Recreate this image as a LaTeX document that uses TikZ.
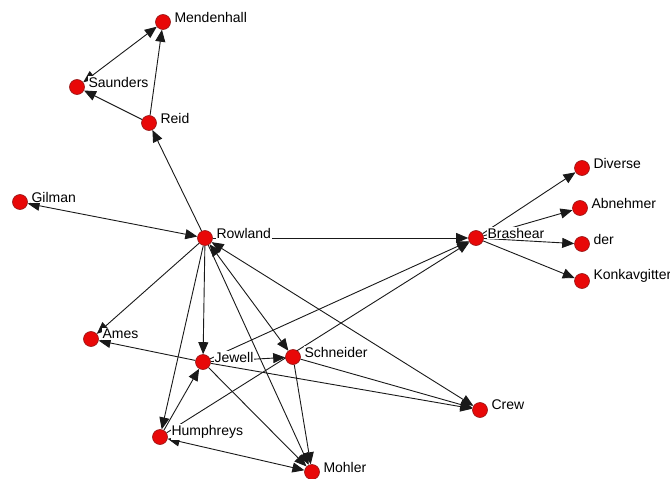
\documentclass[tikz,border=0pt]{standalone}
\usepackage{fontspec}
\setmainfont{Liberation Sans}
\usetikzlibrary{arrows.meta,backgrounds}
\definecolor{actorred}{RGB}{232,8,8}
\definecolor{actorrim}{RGB}{150,20,20}

\begin{document}
\begin{tikzpicture}[x=1pt,y=-1pt,
  actor/.style={circle,fill=actorred,draw=actorrim,line width=0.6pt,minimum size=15pt,inner sep=0pt},
  tag/.style={fill=white,inner sep=1pt,label distance=2.5pt,yshift=5pt,font=\fontsize{14}{16}\selectfont},
  tie/.style={draw=black!90,line width=0.9pt,-{Triangle[length=12pt,width=10pt]}},
  mutual/.style={tie,{Triangle[length=12pt,width=10pt]}-{Triangle[length=12pt,width=10pt]}}]
\useasboundingbox (0,0) rectangle (670,479);
% actors
\foreach \id/\x/\y/\txt in {mendenhall/163/22/Mendenhall, saunders/77/87/Saunders,
  reid/149/123/Reid, gilman/20/202/Gilman, rowland/205/238/Rowland,
  brashear/476/238/Brashear, diverse/582/168/Diverse, abnehmer/580/208/Abnehmer,
  der/582/244/der, konkav/582/281/Konkavgitter, ames/91/339/Ames,
  jewell/203/362/Jewell, schneider/293/357/Schneider, crew/480/410/Crew,
  humphreys/160/437/Humphreys, mohler/312/472/Mohler} {
  \node[actor,label={[tag]right:\txt}] (\id) at (\x,\y) {};
}
% ties
\begin{scope}[on background layer]
\foreach \a/\b in {reid/mendenhall, reid/saunders, rowland/reid, rowland/brashear,
  rowland/ames, rowland/jewell, rowland/humphreys, rowland/mohler,
  jewell/ames, jewell/schneider, humphreys/jewell, jewell/mohler, jewell/crew,
  jewell/brashear, humphreys/brashear, schneider/mohler, schneider/crew,
  brashear/diverse, brashear/abnehmer, brashear/der, brashear/konkav}
  \draw[tie] (\a) -- (\b);
% both ways
\foreach \a/\b in {saunders/mendenhall, gilman/rowland, rowland/schneider,
  rowland/crew, humphreys/mohler}
  \draw[mutual] (\a) -- (\b);
\end{scope}
\end{tikzpicture}
\end{document}
